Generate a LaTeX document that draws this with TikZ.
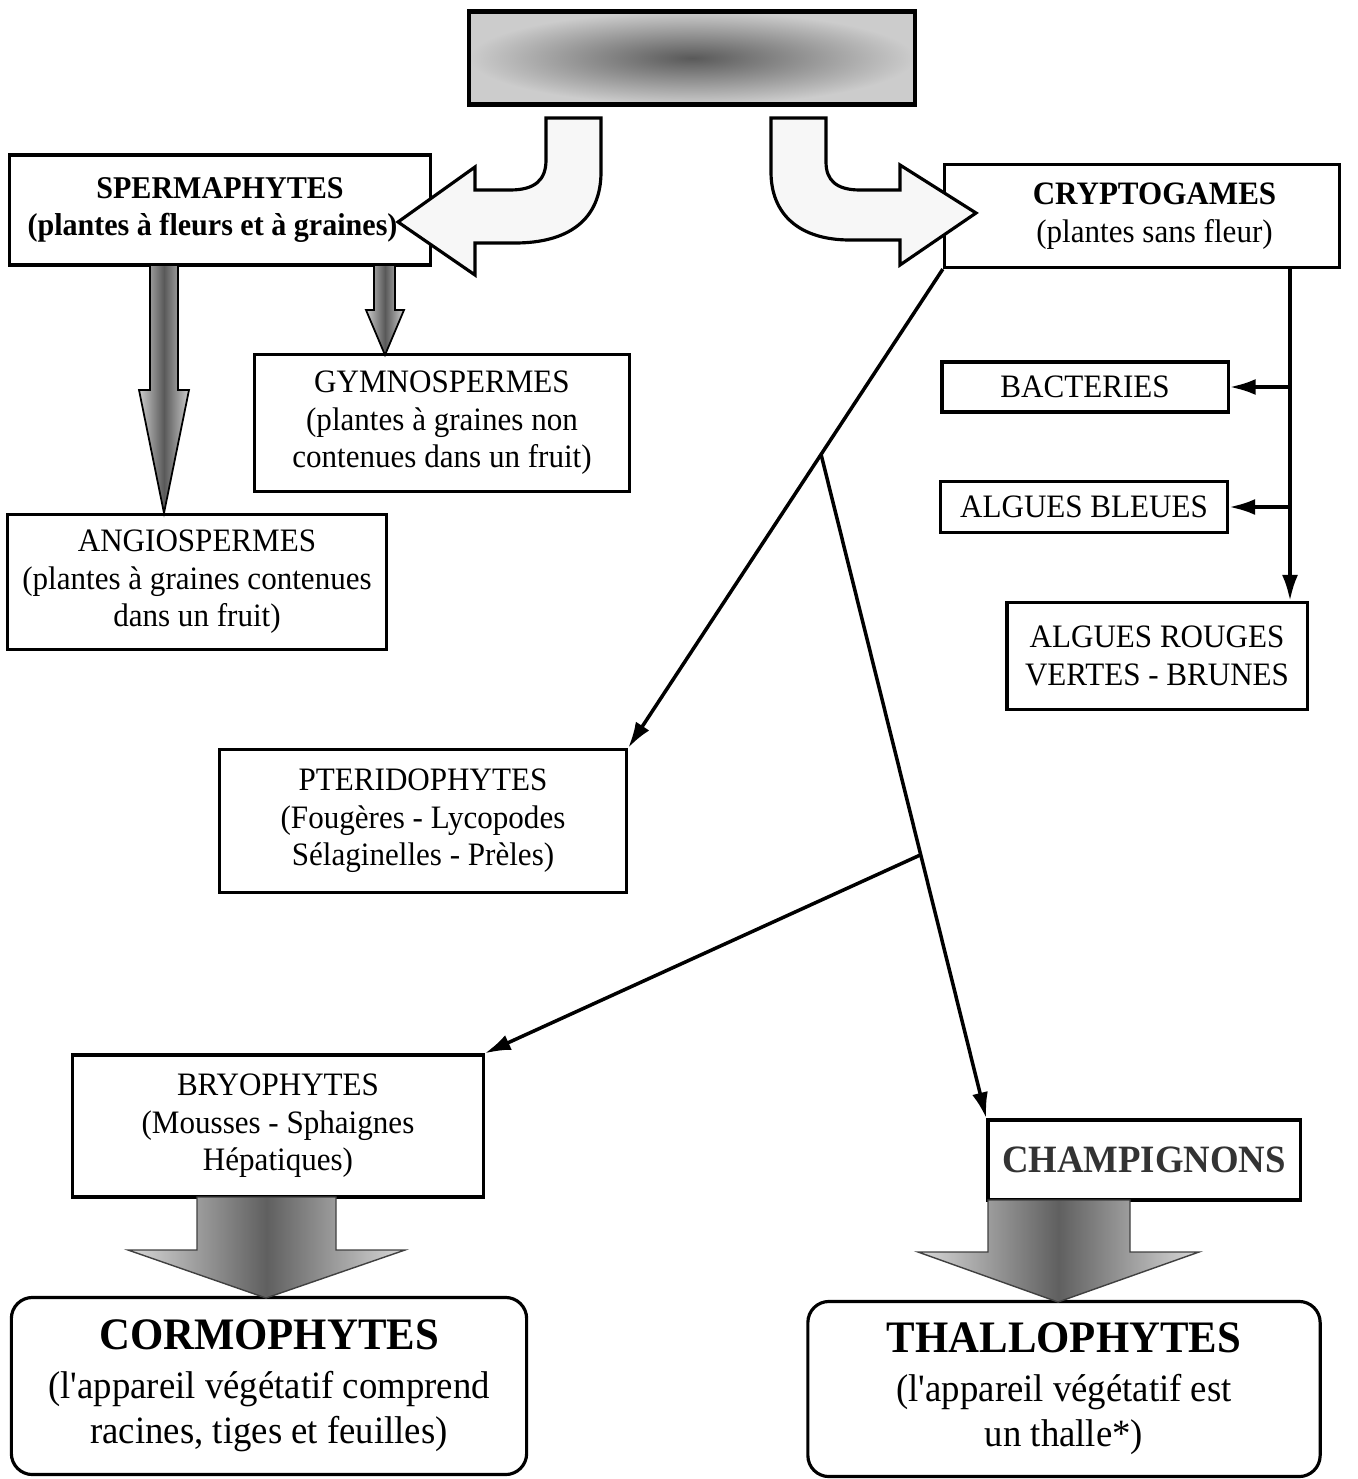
\documentclass[tikz,border=0pt]{standalone}
\usepackage{fontspec}
\setmainfont[FakeStretch=0.95]{Liberation Serif}
\usetikzlibrary{arrows.meta,calc}

\tikzset{
  box/.style={draw, line width=0.9pt, fill=white, align=center, inner sep=2pt,
    font=\fontsize{9.3}{10.7}\selectfont},
  bigbox/.style={box, rounded corners=6pt, font=\fontsize{11}{12.9}\selectfont},
  conn/.style={line width=1pt, -{Latex[length=2.6mm,width=1.6mm]}},
  bendarrow/.style={draw, line width=0.9pt, fill=gray!6},
  fatarrow/.style={draw=black, line width=0.5pt, left color=gray!40,
    right color=gray!40, middle color=gray!70!black},
  bigarrow/.style={draw=gray!50!black, line width=0.4pt, left color=gray!30,
    right color=gray!30, middle color=gray!75!black},
}

\begin{document}
\begin{tikzpicture}[x=0.01cm,y=-0.01cm]
\useasboundingbox (0,0) rectangle (1357,1479);

% title (shaded)
\node[draw, line width=1.2pt, minimum width=4.45cm, minimum height=0.93cm,
  inner color=gray!70!black, outer color=gray!40] (title) at (692,58) {};

% first level
\node[box, minimum width=4.2cm, minimum height=1.1cm, font=\fontsize{9}{10.7}\selectfont]
  (sperma) at (220,210)
  {\bfseries SPERMAPHYTES\\ \bfseries (plantes à fleurs et à graines)\hspace*{0.15cm}};
\node[box, minimum width=3.95cm, minimum height=1.03cm] (crypto) at (1142,216)
  {\hspace*{0.25cm}\bfseries CRYPTOGAMES\\ \hspace*{0.25cm}(plantes sans fleur)};

% spermaphytes
\node[box, minimum width=3.75cm, minimum height=1.37cm] (gymno) at (442,423)
  {GYMNOSPERMES\\ (plantes à graines non\\ contenues dans un fruit)};
\node[box, minimum width=3.79cm, minimum height=1.35cm] (angio) at (197,582)
  {ANGIOSPERMES\\ (plantes à graines contenues\\ dans un fruit)};

% cryptogames
\node[box, minimum width=2.86cm, minimum height=0.5cm] (bact) at (1085,387) {BACTERIES};
\node[box, minimum width=2.87cm, minimum height=0.51cm] (bleues) at (1084,507) {ALGUES BLEUES};
\node[box, minimum width=3.0cm, minimum height=1.07cm] (rouges) at (1157,656)
  {ALGUES ROUGES\\ VERTES - BRUNES};
\node[box, minimum width=4.07cm, minimum height=1.43cm] (pterido) at (423,821)
  {PTERIDOPHYTES\\ (Fougères - Lycopodes\\ Sélaginelles - Prèles)};
\node[box, minimum width=4.1cm, minimum height=1.42cm] (bryo) at (278,1126)
  {BRYOPHYTES\\ (Mousses - Sphaignes\\ Hépatiques)};
\node[box, minimum width=3.12cm, minimum height=0.8cm, font=\fontsize{11}{12}\selectfont\bfseries,
  text=black!80] (champ) at (1144,1160) {CHAMPIGNONS};

% bottom
\node[bigbox, minimum width=5.15cm, minimum height=1.77cm] (cormo) at (269,1386)
  {{\fontsize{12.8}{15}\selectfont\bfseries CORMOPHYTES}\\[1pt]
   (l\textquotesingle appareil végétatif comprend\\ racines, tiges et feuilles)};
\node[bigbox, minimum width=5.12cm, minimum height=1.75cm] (thallo) at (1064,1389)
  {{\fontsize{12.8}{15}\selectfont\bfseries THALLOPHYTES}\\[1pt]
   (l\textquotesingle appareil végétatif est\\ un thalle*)};

% curved arrows
\draw[bendarrow] (546,118) -- (601,118) -- (601,172)
  .. controls (601,220) and (568,243) .. (515,243) -- (475,243) -- (475,275)
  -- (398,222) -- (475,167) -- (475,190) -- (510,190)
  .. controls (535,190) and (546,180) .. (546,160) -- cycle;
\draw[bendarrow] (771,118) -- (826,118) -- (826,162)
  .. controls (826,180) and (836,190) .. (860,190) -- (900,190) -- (900,165)
  -- (976,213) -- (900,265) -- (900,240) -- (850,240)
  .. controls (800,240) and (771,215) .. (771,172) -- cycle;

% gray arrows
\draw[fatarrow] (150,265) -- (178,265) -- (178,390) -- (189,390) -- (164,513)
  -- (139,390) -- (150,390) -- cycle;
\draw[fatarrow] (374,265) -- (395,265) -- (395,310) -- (404,310) -- (385,355)
  -- (366,310) -- (374,310) -- cycle;
\draw[bigarrow] (197,1197) -- (336,1197) -- (336,1250) -- (405,1250) -- (266,1298)
  -- (128,1250) -- (197,1250) -- cycle;
\draw[bigarrow] (988,1200) -- (1130,1200) -- (1130,1252) -- (1199,1252) -- (1058,1302)
  -- (918,1252) -- (988,1252) -- cycle;

% connectors
\coordinate (j1) at ($(crypto.south west)!0.387!(pterido.north east)$);
\coordinate (j2) at ($(j1)!0.603!(champ.north west)$);
\coordinate (vtop) at (1290,268);
\draw[conn] (crypto.south west) -- (pterido.north east);
\draw[conn] (j1) -- (champ.north west);
\draw[conn] (j2) -- (bryo.north east);
\draw[conn] (vtop) -- (vtop |- rouges.north);
\draw[conn] (vtop |- bact.east) -- (bact.east);
\draw[conn] (vtop |- bleues.east) -- (bleues.east);
\end{tikzpicture}
\end{document}
